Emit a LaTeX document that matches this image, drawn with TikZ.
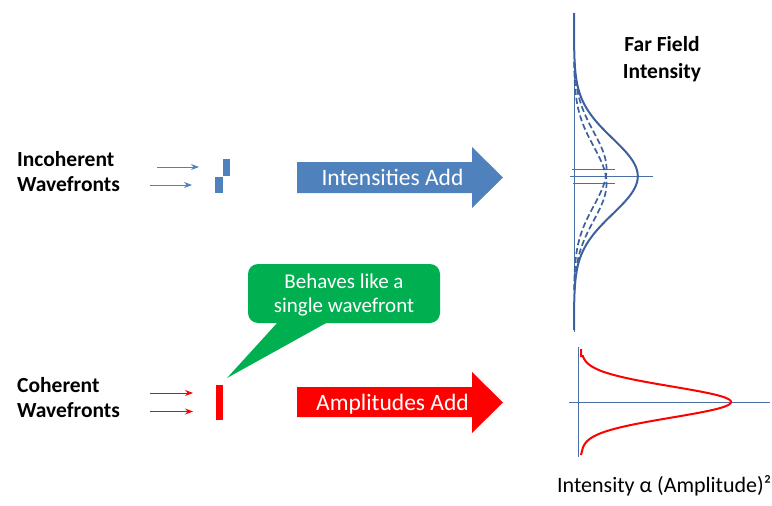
\documentclass[tikz,border=0pt]{standalone}
\usepackage{fontspec}
\setmainfont{Carlito}
\usetikzlibrary{arrows.meta}
\definecolor{ablue}{HTML}{4F81BD}
\definecolor{lblue}{HTML}{4A6FA5}
\definecolor{cblue}{HTML}{3C619E}
\definecolor{cgreen}{HTML}{00B050}
\definecolor{cred}{HTML}{FF0000}
\tikzset{
  lbl/.style={font=\fontsize{21.5}{25}\selectfont\bfseries, inner sep=0pt, anchor=base west},
  ttl/.style={font=\fontsize{21.5}{25}\selectfont\bfseries, inner sep=0pt, anchor=base},
  atext/.style={font=\fontsize{23.5}{28}\selectfont, text=white, inner sep=0pt, anchor=base},
  ctext/.style={font=\fontsize{21}{25}\selectfont, text=white, inner sep=0pt, anchor=base},
  thinarrow/.style={line width=0.9pt, -{Stealth[length=8pt,width=6pt]}},
  axisline/.style={lblue, line width=0.9pt},
  curve/.style={cblue, line width=2pt},
  dcurve/.style={cblue, line width=1.7pt, dash pattern=on 6pt off 3pt},
  wf/.style={inner sep=0pt, minimum width=7.5pt},
}
\begin{document}
\begin{tikzpicture}[x=1pt,y=-1pt]
\useasboundingbox (0,0) rectangle (772,506);

% Left labels
\node[lbl] (inc1) at (17,166) {Incoherent};
\node[lbl] (inc2) at (17,191) {Wavefronts};
\node[lbl] (coh1) at (17,392) {Coherent};
\node[lbl] (coh2) at (17,417) {Wavefronts};

% Incoherent wavefronts
\node[wf, fill=ablue, minimum height=17pt, anchor=north west] (wfa) at (222.5,158.5) {};
\node[wf, fill=ablue, minimum height=16.5pt, anchor=north west] (wfb) at (215,176.5) {};
\coordinate (ia1) at (157,167);
\coordinate (ia2) at (150,185);
\coordinate (ie1) at (199,167);
\coordinate (ie2) at (192,185);
\draw[thinarrow, ablue] (ia1) -- (ie1);
\draw[thinarrow, ablue] (ia2) -- (ie2);

% Coherent wavefronts
\node[wf, fill=cred, minimum height=17.5pt, anchor=north west] (wfc) at (215.5,385) {};
\node[wf, fill=cred, minimum height=17pt, anchor=north west] (wfd) at (215.5,403) {};
\coordinate (ca1) at (150,393);
\coordinate (ca2) at (150,411.5);
\coordinate (ce1) at (193,393);
\coordinate (ce2) at (193,411.5);
\draw[thinarrow, cred] (ca1) -- (ce1);
\draw[thinarrow, cred] (ca2) -- (ce2);

% Big arrows
\fill[ablue] (297,162) -- (472,162) -- (472,147) -- (503,177.5) -- (472,208) -- (472,193) -- (297,193) -- cycle;
\node[atext] (ia) at (392.5,185.5) {Intensities Add};
\fill[cred] (297,387) -- (472,387) -- (472,372) -- (503,402.5) -- (472,433) -- (472,417) -- (297,417) -- cycle;
\node[atext] (aa) at (392.5,410.5) {Amplitudes Add};

% Callout
\fill[cgreen, rounded corners=10pt] (248,264) rectangle (440,323);
\fill[cgreen] (278,322) -- (227,378) -- (328,322) -- cycle;
\node[ctext] (cb1) at (344,288) {Behaves like a};
\node[ctext] (cb2) at (344,312) {single wavefront};

% Far field title
\node[ttl] (ff1) at (662,51.5) {Far Field};
\node[ttl] (ff2) at (662,78) {Intensity};

% Top plot
\draw[axisline] (574,13) -- (574,332);
\draw[axisline] (570,176.5) -- (653,176.5);
\draw[axisline] (572,169) -- (615,169);
\draw[axisline] (573,183.5) -- (615,183.5);
\draw[dcurve] plot[domain=62:292, samples=120] ({574+32.5*exp(-0.5*((\x-169)/37)^2)}, \x);
\draw[dcurve] plot[domain=62:292, samples=120] ({574+32.5*exp(-0.5*((\x-183.5)/37)^2)}, \x);
\draw[curve] plot[domain=13:330, samples=200] ({574+32.5*exp(-0.5*((\x-169)/37)^2)+32.5*exp(-0.5*((\x-183.5)/37)^2)}, \x);

% Bottom plot
\draw[axisline] (578,347) -- (578,457);
\draw[axisline] (569,402) -- (770,402);
\draw[cred, line width=2pt] (581,349) -- (581,356) -- plot[domain=356:448, samples=150] ({581+150*exp(-0.5*((\x-402)/15.5)^2)}, \x) -- (581,455);

\node[font=\fontsize{22}{26}\selectfont, inner sep=0pt, anchor=base west] (law) at (557,492) {Intensity α (Amplitude)²};
\end{tikzpicture}
\end{document}
